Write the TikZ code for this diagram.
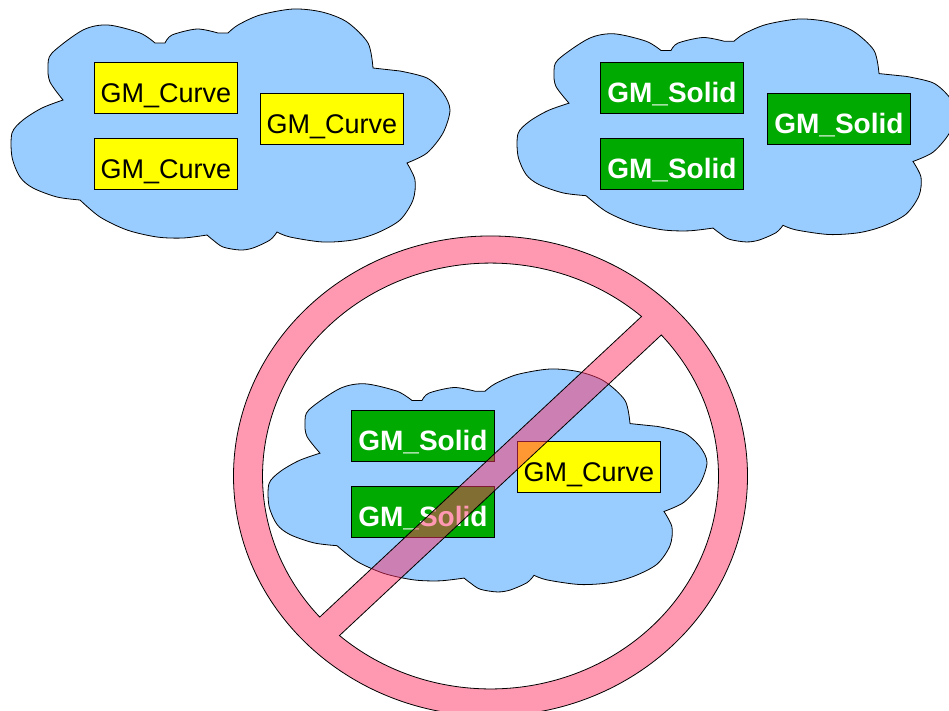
\documentclass[tikz,border=0pt]{standalone}
\usepackage{fontspec}
\setmainfont{Liberation Sans}
\definecolor{cloudblue}{HTML}{99CCFF}
\definecolor{curveyellow}{HTML}{FFFF00}
\definecolor{solidgreen}{HTML}{00AA00}
\definecolor{nopink}{HTML}{FF3366}
\tikzset{
  gmbox/.style={draw=black, line width=0.8pt, anchor=north west, inner sep=0pt,
    minimum width=143pt, minimum height=51pt, text height=40pt, text depth=11pt,
    font=\fontsize{27}{30}\selectfont},
  curvebox/.style={gmbox, fill=curveyellow},
  solidbox/.style={gmbox, fill=solidgreen, text=white,
    font=\fontsize{28}{30}\selectfont\bfseries},
  nosign/.style={draw=black, line width=0.8pt, fill=nopink, fill opacity=0.5,
    even odd rule},
  gmcloud/.pic={
    \draw[fill=cloudblue, line width=0.8pt]
      plot[smooth] coordinates {(53,91) (40,73) (38,58) (42,44) (73,21) (98,16) (130,24) (145,34)}
      -- plot[smooth] coordinates {(155,34) (162,26) (187,20) (208,24)}
      -- plot[smooth] coordinates {(218,24) (228,16) (250,6) (283,0) (312,3) (337,13) (358,34) (363,59)}
      -- plot[smooth] coordinates {(390,62) (417,69) (433,84) (440,101) (433,124) (417,144) (397,154)}
      -- plot[smooth] coordinates {(397,154) (405,171) (403,191) (390,211) (367,224) (343,231) (313,233) (280,228) (267,223)}
      -- plot[smooth] coordinates {(267,223) (260,231) (243,239) (230,241) (213,238) (203,231) (197,226)}
      -- plot[smooth] coordinates {(197,226) (173,229) (147,228) (117,221) (90,208) (70,191)}
      -- plot[smooth] coordinates {(70,191) (47,188) (23,179) (10,168) (2,148) (2,124) (13,111) (32,99) (53,91)}
      -- cycle;
  }
}
\begin{document}
\begin{tikzpicture}[x=1pt, y=-1pt]
  \useasboundingbox (0,0) rectangle (949,710);
  % Clouds
  \pic at (10,9) {gmcloud};
  \pic[yscale=0.925] at (516,19) {gmcloud};
  \pic[yscale=0.925] at (267,369) {gmcloud};
  % Curves only
  \node[curvebox] (curveA) at (94,62) {GM\_Curve};
  \node[curvebox] (curveB) at (94,138) {GM\_Curve};
  \node[curvebox] (curveC) at (260,93) {GM\_Curve};
  % Solids only
  \node[solidbox] (solidA) at (600,62) {GM\_Solid};
  \node[solidbox] (solidB) at (600,138) {GM\_Solid};
  \node[solidbox] (solidC) at (767,93) {GM\_Solid};
  % Mixed
  \node[solidbox] (mixA) at (351,410) {GM\_Solid};
  \node[solidbox] (mixB) at (351,486) {GM\_Solid};
  \node[curvebox] (mixC) at (517,441) {GM\_Curve};
  % Prohibition sign
  \begin{scope}[shift={(490.5,476)}, yscale=0.934]
    \draw[nosign]
      (0,0) circle[radius=257]
      (318.52:228) arc[start angle=318.52, end angle=491.48, radius=228] -- cycle
      (138.52:228) arc[start angle=138.52, end angle=311.48, radius=228] -- cycle;
  \end{scope}
\end{tikzpicture}
\end{document}
